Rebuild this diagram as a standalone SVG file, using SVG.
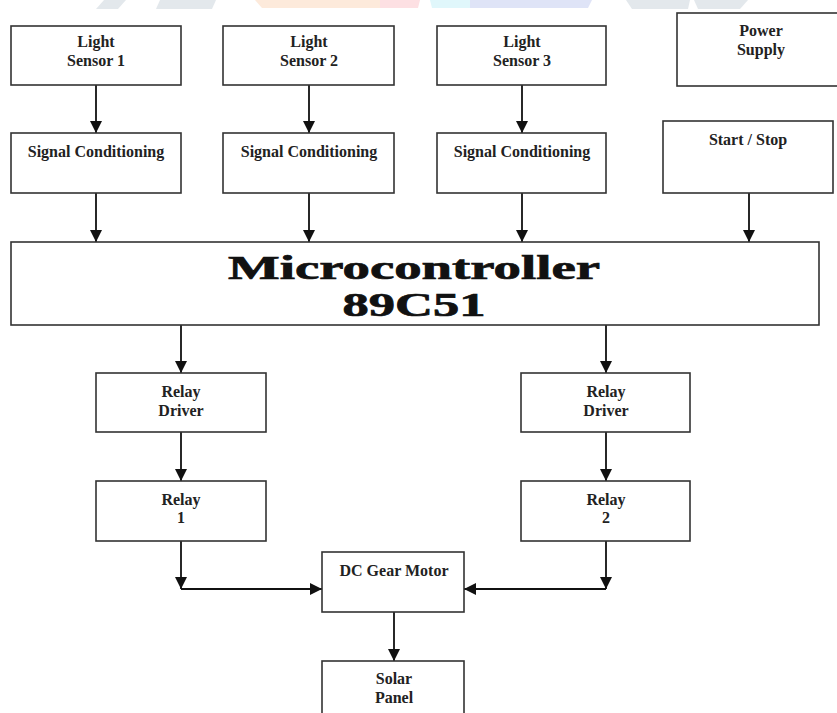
<svg xmlns="http://www.w3.org/2000/svg" width="837" height="713" viewBox="0 0 837 713">
<defs>
<marker id="ah" markerUnits="userSpaceOnUse" markerWidth="12" markerHeight="12" refX="12" refY="6" orient="auto">
<path d="M0,0 L12,6 L0,12 z" fill="#111"/>
</marker>
<style>
.box{fill:#fff;stroke:#333;stroke-width:1.6}
.t{font-family:"Liberation Serif","Times New Roman",serif;font-weight:bold;font-size:16px;fill:#222;text-anchor:middle}
.big{font-family:"Liberation Serif","Times New Roman",serif;font-weight:bold;font-size:33px;fill:#111;stroke:#111;stroke-width:0.7;text-anchor:middle}
.c{fill:none;stroke:#111;stroke-width:1.8;marker-end:url(#ah)}
</style>
</defs>
<rect width="837" height="713" fill="#fff"/>
<g id="watermark">
<polygon points="104,0 126,0 118,9 96,9" fill="#e3e8ec"/>
<polygon points="160,0 216,0 212,9 156,9" fill="#e3e8ec"/>
<polygon points="255,0 380,0 380,8 262,8" fill="#fdeadb"/>
<polygon points="380,0 420,0 418,8 380,8" fill="#fde0e3"/>
<polygon points="430,0 470,0 470,8 432,8" fill="#e0f7fb"/>
<polygon points="470,0 592,0 588,8 470,8" fill="#dfe4f7"/>
<polygon points="626,0 690,0 688,9 632,9" fill="#e3e8ec"/>
<polygon points="694,0 748,0 740,9 698,9" fill="#e3e8ec"/>
</g>
<g id="connectors">
<path class="c" d="M96,85 V133"/>
<path class="c" d="M309,85 V133"/>
<path class="c" d="M522,85 V133"/>
<path class="c" d="M96,193 V242"/>
<path class="c" d="M309,193 V242"/>
<path class="c" d="M522,193 V242"/>
<path class="c" d="M749,193 V242"/>
<path class="c" d="M181,325 V373"/>
<path class="c" d="M606,325 V373"/>
<path class="c" d="M181,432 V481"/>
<path class="c" d="M606,432 V481"/>
<path class="c" d="M181,541 V589"/>
<path class="c" d="M181,589 H322"/>
<path class="c" d="M606,541 V589"/>
<path class="c" d="M606,589 H464"/>
<path class="c" d="M394,612 V661"/>
</g>
<g id="light-sensor-1"><rect class="box" x="11" y="26" width="170" height="59"/><text class="t" x="96" y="47">Light</text><text class="t" x="96" y="66">Sensor 1</text></g>
<g id="light-sensor-2"><rect class="box" x="223" y="26" width="171" height="59"/><text class="t" x="309" y="47">Light</text><text class="t" x="309" y="66">Sensor 2</text></g>
<g id="light-sensor-3"><rect class="box" x="437" y="26" width="169" height="59"/><text class="t" x="522" y="47">Light</text><text class="t" x="522" y="66">Sensor 3</text></g>
<g id="power-supply"><rect class="box" x="677" y="13" width="170" height="73"/><text class="t" x="761" y="36">Power</text><text class="t" x="761" y="55">Supply</text></g>
<g id="signal-conditioning-1"><rect class="box" x="11" y="133" width="170" height="60"/><text class="t" x="96" y="157">Signal Conditioning</text></g>
<g id="signal-conditioning-2"><rect class="box" x="223" y="133" width="171" height="60"/><text class="t" x="309" y="157">Signal Conditioning</text></g>
<g id="signal-conditioning-3"><rect class="box" x="437" y="133" width="169" height="60"/><text class="t" x="522" y="157">Signal Conditioning</text></g>
<g id="start-stop"><rect class="box" x="663" y="121" width="170" height="72"/><text class="t" x="748" y="145">Start / Stop</text></g>
<g id="microcontroller"><rect class="box" x="11" y="242" width="808" height="83"/><text class="big" x="414" y="279" textLength="372" lengthAdjust="spacingAndGlyphs">Microcontroller</text><text class="big" x="414" y="316" textLength="143" lengthAdjust="spacingAndGlyphs">89C51</text></g>
<g id="relay-driver-1"><rect class="box" x="96" y="373" width="170" height="59"/><text class="t" x="181" y="397">Relay</text><text class="t" x="181" y="416">Driver</text></g>
<g id="relay-driver-2"><rect class="box" x="521" y="373" width="169" height="59"/><text class="t" x="606" y="397">Relay</text><text class="t" x="606" y="416">Driver</text></g>
<g id="relay-1"><rect class="box" x="96" y="481" width="170" height="60"/><text class="t" x="181" y="505">Relay</text><text class="t" x="181" y="523">1</text></g>
<g id="relay-2"><rect class="box" x="521" y="481" width="169" height="60"/><text class="t" x="606" y="505">Relay</text><text class="t" x="606" y="523">2</text></g>
<g id="dc-gear-motor"><rect class="box" x="322" y="552" width="142" height="60"/><text class="t" x="394" y="576">DC Gear Motor</text></g>
<g id="solar-panel"><rect class="box" x="322" y="661" width="142" height="60"/><text class="t" x="394" y="684">Solar</text><text class="t" x="394" y="703">Panel</text></g>
</svg>
